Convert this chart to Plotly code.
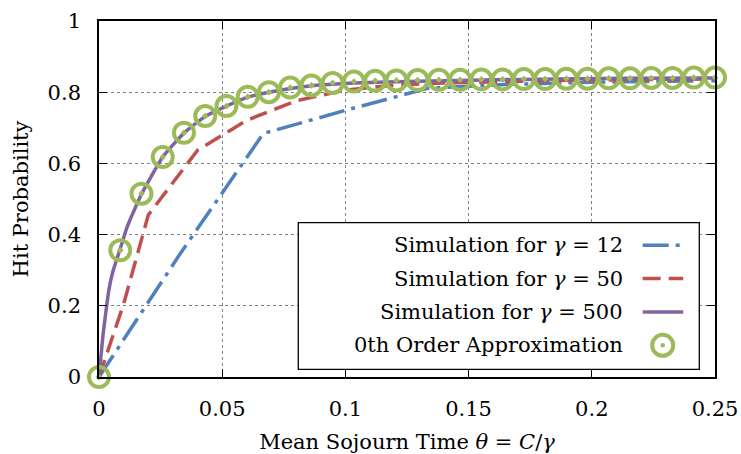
import numpy as np
import plotly.graph_objects as go

# ---- data ----
theta_12 = [0, 0.0333, 0.0667, 0.1, 0.1333, 0.1667, 0.2, 0.25]
hit_12 = [0, 0.35, 0.684, 0.749, 0.811, 0.822, 0.828, 0.832]

theta_50 = [0, 0.01, 0.02, 0.04, 0.06, 0.08, 0.1, 0.12, 0.14, 0.16, 0.18, 0.2, 0.22, 0.25]
hit_50 = [0, 0.205, 0.455, 0.637, 0.721, 0.776, 0.806, 0.82, 0.826, 0.83, 0.832, 0.834, 0.835, 0.837]

theta_500 = [0, 0.0009, 0.0017, 0.0027, 0.004, 0.0055, 0.0086, 0.0115, 0.0145, 0.0172,
             0.02586, 0.03448, 0.0431, 0.05172, 0.06034, 0.06897, 0.0862, 0.1034,
             0.1293, 0.1724, 0.2155, 0.25]
hit_500 = [0, 0.066, 0.122, 0.178, 0.244, 0.293, 0.360, 0.423, 0.472, 0.513,
           0.618, 0.685, 0.732, 0.761, 0.786, 0.800, 0.818, 0.826,
           0.831, 0.836, 0.839, 0.840]

theta_approx = [i * 0.25 / 29 for i in range(30)]
hit_approx = [0.0, 0.356, 0.515, 0.618, 0.686, 0.733, 0.761, 0.787, 0.800, 0.813,
              0.819, 0.826, 0.830, 0.832, 0.833, 0.834, 0.835, 0.835, 0.836, 0.836,
              0.837, 0.837, 0.838, 0.838, 0.839, 0.839, 0.840, 0.840, 0.841, 0.841]

legend_labels = ["Simulation for <i>γ</i> = 12", "Simulation for <i>γ</i> = 50",
                 "Simulation for <i>γ</i> = 500", "0th Order Approximation"]

x_ticks = [0, 0.05, 0.1, 0.15, 0.2, 0.25]
x_tick_text = ["0", "0.05", "0.1", "0.15", "0.2", "0.25"]
y_ticks = [0, 0.2, 0.4, 0.6, 0.8, 1]
y_tick_text = ["0", "0.2", "0.4", "0.6", "0.8", "1"]

BLUE = "#4F81BD"
RED = "#C0504D"
PURPLE = "#8064A2"
GREEN = "#9BBB59"
FONT = "DejaVu Serif"
BLUE_DASH = "26px,7px,4px,7px"
RED_DASH = "18px,8px"

fig = go.Figure()
fig.add_trace(go.Scatter(x=theta_12, y=hit_12, mode="lines",
                         line=dict(color=BLUE, width=3.5, dash=BLUE_DASH)))
fig.add_trace(go.Scatter(x=theta_50, y=hit_50, mode="lines",
                         line=dict(color=RED, width=3.5, dash=RED_DASH)))
fig.add_trace(go.Scatter(x=theta_500, y=hit_500, mode="lines",
                         line=dict(color=PURPLE, width=3.5, shape="spline", smoothing=0.5)))
fig.add_trace(go.Scatter(x=theta_approx, y=hit_approx, mode="markers", cliponaxis=False,
                         marker=dict(symbol="circle-open-dot", size=20, color=GREEN,
                                     line=dict(color=GREEN, width=4))))

# ---- manual legend (text left of the sample, as in the reference) ----
lx0, lx1, ly0, ly1 = 0.3235, 0.9745, 0.0216, 0.4337
rows = [0.370, 0.2764, 0.1826, 0.0890]
text_x = 0.8539
sx0, sx1, sc = 0.8826, 0.9484, 0.9151
shapes = [dict(type="rect", xref="paper", yref="paper", x0=lx0, x1=lx1, y0=ly0, y1=ly1,
               fillcolor="white", line=dict(color="black", width=1.3), layer="above")]
shapes.append(dict(type="line", xref="paper", yref="paper", x0=sx0, x1=sx1, y0=rows[0], y1=rows[0],
                   line=dict(color=BLUE, width=3.5, dash=BLUE_DASH), layer="above"))
shapes.append(dict(type="line", xref="paper", yref="paper", x0=sx0, x1=sx1, y0=rows[1], y1=rows[1],
                   line=dict(color=RED, width=3.5, dash=RED_DASH), layer="above"))
shapes.append(dict(type="line", xref="paper", yref="paper", x0=sx0, x1=sx1, y0=rows[2], y1=rows[2],
                   line=dict(color=PURPLE, width=3.5), layer="above"))
shapes.append(dict(type="circle", xref="paper", yref="paper", xsizemode="pixel", ysizemode="pixel",
                   xanchor=sc, yanchor=rows[3], x0=-10.5, x1=10.5, y0=-10.5, y1=10.5,
                   line=dict(color=GREEN, width=4), layer="above"))
shapes.append(dict(type="circle", xref="paper", yref="paper", xsizemode="pixel", ysizemode="pixel",
                   xanchor=sc, yanchor=rows[3], x0=-2.3, x1=2.3, y0=-2.3, y1=2.3,
                   fillcolor=GREEN, line=dict(color=GREEN, width=0), layer="above"))

annotations = [dict(xref="paper", yref="paper", x=text_x, y=r, text=t, showarrow=False,
                    xanchor="right", yanchor="middle", font=dict(family=FONT, size=21, color="black"))
               for r, t in zip(rows, legend_labels)]

axis_common = dict(showline=True, linecolor="black", linewidth=1.6, mirror="ticks",
                   ticks="inside", ticklen=8, tickwidth=1.2, tickcolor="black",
                   showgrid=True, gridcolor="#808080", gridwidth=1, griddash="dot",
                   zeroline=False, automargin=False,
                   tickfont=dict(family=FONT, size=21, color="black"))

fig.update_layout(
    width=741, height=454,
    margin=dict(l=99, r=26, t=21, b=77),
    paper_bgcolor="white", plot_bgcolor="white",
    showlegend=False,
    shapes=shapes, annotations=annotations,
    xaxis=dict(range=[0, 0.25], tickvals=x_ticks, ticktext=x_tick_text,
               ticklabelstandoff=12,
               title=dict(text="Mean Sojourn Time <i>θ</i> = <i>C</i>/<i>γ</i>",
                          font=dict(family=FONT, size=21, color="black"), standoff=14),
               **axis_common),
    yaxis=dict(range=[0, 1], tickvals=y_ticks, ticktext=y_tick_text,
               ticklabelstandoff=12,
               title=dict(text="Hit Probability", font=dict(family=FONT, size=21, color="black"),
                          standoff=13),
               **axis_common),
)

fig.write_html("out.html", config={"displayModeBar": False},
               post_script="document.body.style.margin='0px';")
